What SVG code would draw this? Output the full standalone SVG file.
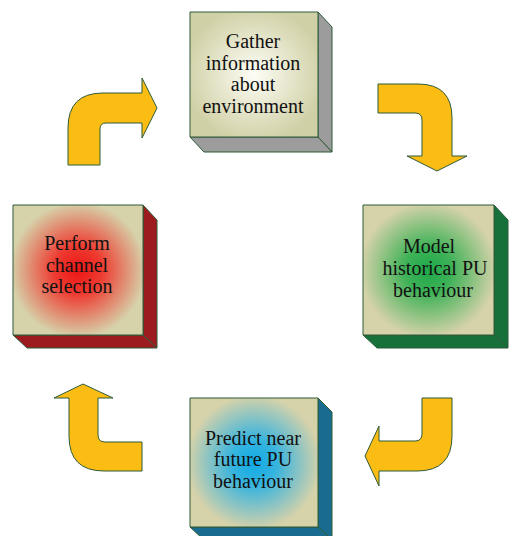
<svg xmlns="http://www.w3.org/2000/svg" width="509" height="536" viewBox="0 0 509 536">
<defs>
<radialGradient id="gTop" cx="50%" cy="50%" r="55%">
<stop offset="0" stop-color="#fdfdf6"/><stop offset="1" stop-color="#d0d0a6"/>
</radialGradient>
<radialGradient id="gRed" cx="50%" cy="50%" r="52%">
<stop offset="0" stop-color="#ec1616"/><stop offset="0.35" stop-color="#ee3a30"/><stop offset="1" stop-color="#d6d2aa"/>
</radialGradient>
<radialGradient id="gGreen" cx="50%" cy="50%" r="52%">
<stop offset="0" stop-color="#1ea84a"/><stop offset="0.35" stop-color="#40b258"/><stop offset="1" stop-color="#d6d2aa"/>
</radialGradient>
<radialGradient id="gBlue" cx="50%" cy="50%" r="52%">
<stop offset="0" stop-color="#10aae6"/><stop offset="0.35" stop-color="#38b4de"/><stop offset="1" stop-color="#d6d2aa"/>
</radialGradient>
</defs>
<style>
.edge{stroke:#2f5a38;stroke-width:1;stroke-linejoin:round}
.arrow{fill:#fbbd14;stroke:#2f5a38;stroke-width:1;stroke-linejoin:round}
.lbl{font-family:"Liberation Serif","Times New Roman",serif;font-size:20px;fill:#111;text-anchor:middle}
</style>
<g id="node-gather">
<polygon class="edge" fill="#9c9c9c" points="318,12 332,27 332,152 318,137"/>
<polygon class="edge" fill="#9c9c9c" points="190,137 318,137 332,152 204,152"/>
<rect class="edge" x="190" y="12" width="128" height="125" fill="url(#gTop)"/>
<text class="lbl" x="253" y="48">Gather</text>
<text class="lbl" x="253" y="70">information</text>
<text class="lbl" x="253" y="91">about</text>
<text class="lbl" x="253" y="113">environment</text>
</g>
<g id="node-model">
<polygon class="edge" fill="#16703a" points="494,205 508,220 508,348 494,335"/>
<polygon class="edge" fill="#16703a" points="363,335 494,335 508,348 377,348"/>
<rect class="edge" x="363" y="205" width="131" height="130" fill="url(#gGreen)"/>
<text class="lbl" x="429" y="253">Model</text>
<text class="lbl" x="435" y="275">historical PU</text>
<text class="lbl" x="433" y="297">behaviour</text>
</g>
<g id="node-predict">
<polygon class="edge" fill="#1a6b90" points="318,398 332,412 332,540 318,527"/>
<polygon class="edge" fill="#1a6b90" points="190,527 318,527 332,540 204,540"/>
<rect class="edge" x="190" y="398" width="128" height="129" fill="url(#gBlue)"/>
<text class="lbl" x="253" y="445">Predict near</text>
<text class="lbl" x="253" y="466">future PU</text>
<text class="lbl" x="253" y="488">behaviour</text>
</g>
<g id="node-perform">
<polygon class="edge" fill="#9b1b1f" points="143,205 157,220 157,348 143,335"/>
<polygon class="edge" fill="#9b1b1f" points="13,335 143,335 157,348 27,348"/>
<rect class="edge" x="13" y="205" width="130" height="130" fill="url(#gRed)"/>
<text class="lbl" x="77" y="250">Perform</text>
<text class="lbl" x="77" y="272">channel</text>
<text class="lbl" x="77" y="293">selection</text>
</g>
<g id="connectors">
<path class="arrow" d="M68,165 L68,128 Q68,93 103,93 L142,93 L142,78 L157,108 L142,138 L142,123 L106,123 Q100,123 100,129 L100,165 Z"/>
<path class="arrow" d="M378,84 L418,84 Q452,84 452,118 L452,156 L467,156 L437,171 L407,156 L422,156 L422,120 Q422,113 415,113 L378,113 Z"/>
<path class="arrow" d="M452,398 L452,436 Q452,471 417,471 L379,471 L379,486 L365,456 L379,426 L379,441 L415,441 Q422,441 422,434 L422,398 Z"/>
<path class="arrow" d="M142,471 L104,471 Q69,471 69,436 L69,398 L54,398 L83,384 L113,398 L98,398 L98,435 Q98,442 105,442 L142,442 Z"/>
</g>
</svg>
